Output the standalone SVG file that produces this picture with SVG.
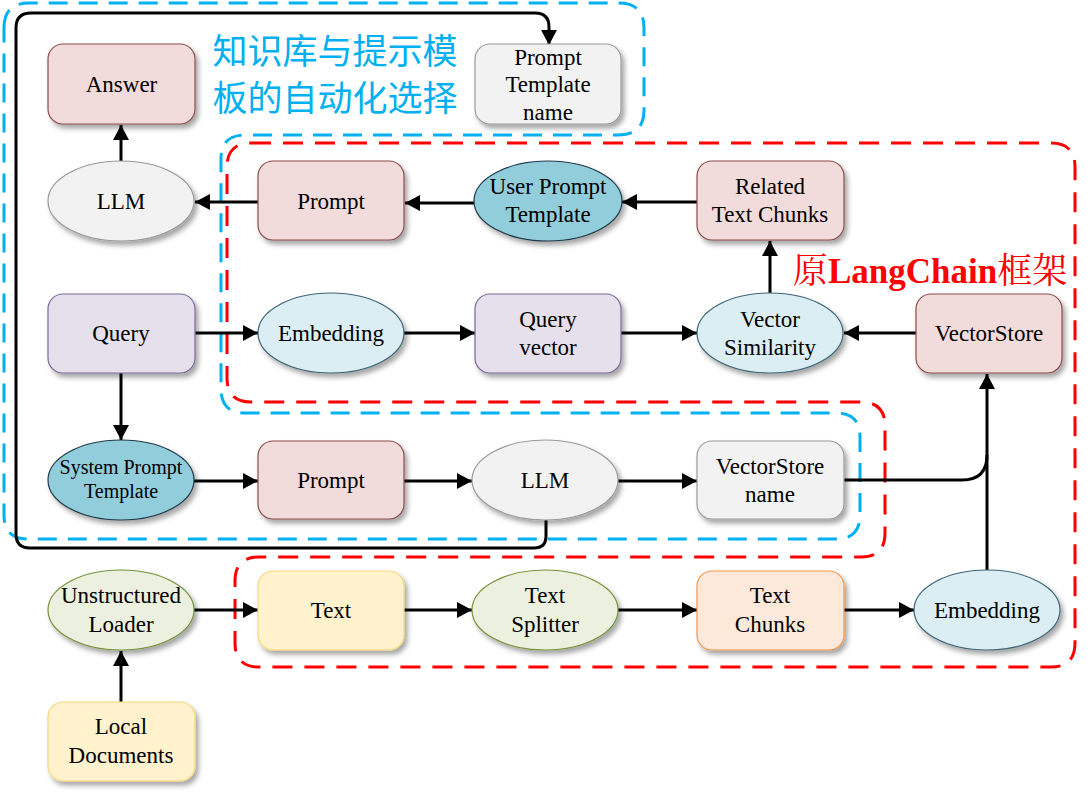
<svg xmlns="http://www.w3.org/2000/svg" width="1089" height="796" viewBox="0 0 1089 796">
<style>
.t{font-family:"Liberation Serif","Times New Roman",serif;font-size:23px;fill:#000;text-anchor:middle}
.s{font-size:20px}
.n{filter:url(#sh);stroke-width:1.2}
.pink{fill:#f2dcdb;stroke:#8c4c4a}
.gray{fill:#f2f2f2;stroke:#9a9a9a}
.lav{fill:#e6e0ec;stroke:#7a6a95}
.lb{fill:#dbeef3;stroke:#3f6677}
.teal{fill:#92cddc;stroke:#1f3b4b}
.yel{fill:#fff2cc;stroke:#f5d77a}
.grn{fill:#ebf1de;stroke:#77933c}
.org{fill:#fde9d9;stroke:#f79646}
.c{fill:none;stroke:#000;stroke-width:3}
.a{marker-end:url(#ah)}
.bd{fill:none;stroke:#00b0f0;stroke-width:3;stroke-dasharray:19 11}
.rd{fill:none;stroke:#ff0000;stroke-width:3;stroke-dasharray:20 12}
</style>
<defs>
<filter id="sh" x="-20%" y="-20%" width="150%" height="160%">
<feDropShadow dx="3" dy="4" stdDeviation="2.5" flood-color="#000" flood-opacity="0.35"/>
</filter>
<marker id="ah" markerUnits="userSpaceOnUse" markerWidth="16" markerHeight="16" refX="15" refY="8" orient="auto">
<path d="M0,0 L15,8 L0,16 Z" fill="#000"/>
</marker>
</defs>
<rect width="1089" height="796" fill="#fff"/>

<g id="borders">
<path class="bd" d="M4,28 Q4,3 29,3 L619,3 Q644,3 644,28 L644,110 Q644,135 619,135 L245,135 Q221,135 221,159 L221,389 Q221,413 245,413 L836,413 Q860,413 860,437 L860,515 Q860,539 836,539 L28,539 Q4,539 4,515 Z"/>
<path class="rd" d="M251,143 L1051,143 Q1075,143 1075,167 L1075,643 Q1075,667 1051,667 L259,667 Q235,667 235,643 L235,581 Q235,557 259,557 L861,557 Q885,557 885,533 L885,426 Q885,402 861,402 L251,402 Q227,402 227,378 L227,167 Q227,143 251,143 Z"/>
</g>

<g id="labels">
<text x="335" y="64" style="font-family:'Noto Sans CJK SC',sans-serif;font-size:35px;fill:#00b0f0;text-anchor:middle">知识库与提示模</text>
<text x="335" y="111" style="font-family:'Noto Sans CJK SC',sans-serif;font-size:35px;fill:#00b0f0;text-anchor:middle">板的自动化选择</text>
<text x="930" y="283" style="font-family:'Liberation Serif','Noto Serif CJK SC','Noto Sans CJK SC',serif;font-size:35px;fill:#ff0000;text-anchor:middle">原<tspan font-weight="bold">LangChain</tspan>框架</text>
</g>

<g id="connectors">
<path class="c a" d="M546,520 L546,536 Q546,548 534,548 L30,548 Q16,548 16,534 L16,28 Q16,13 31,13 L535,13 Q549,13 549,27 L549,45"/>
<path class="c a" d="M121,161 L121,125"/>
<path class="c a" d="M258,202 L195,202"/>
<path class="c a" d="M474,203 L405,203"/>
<path class="c a" d="M697,202 L622,202"/>
<path class="c a" d="M770,293 L770,241"/>
<path class="c a" d="M195,333 L258,333"/>
<path class="c a" d="M404,333 L475,333"/>
<path class="c a" d="M621,333 L697,333"/>
<path class="c a" d="M916,333 L844,333"/>
<path class="c a" d="M121,373 L121,440"/>
<path class="c a" d="M194,481 L258,481"/>
<path class="c a" d="M404,481 L472,481"/>
<path class="c a" d="M618,481 L697,481"/>
<path class="c" d="M844,480 L962,480 Q987,480 987,455"/>
<path class="c a" d="M987,570 L987,374"/>
<path class="c a" d="M194,610 L258,610"/>
<path class="c a" d="M404,610 L472,610"/>
<path class="c a" d="M618,610 L697,610"/>
<path class="c a" d="M844,610 L914,610"/>
<path class="c a" d="M121,702 L121,651"/>
</g>

<g id="answer"><rect class="n pink" x="48" y="44" width="147" height="80" rx="15"/><text class="t" x="121.5" y="92">Answer</text></g>
<g id="prompt-template-name"><rect class="n gray" x="475" y="44" width="146" height="80" rx="15"/><text class="t" x="548" y="65">Prompt</text><text class="t" x="548" y="92">Template</text><text class="t" x="548" y="120">name</text></g>
<g id="llm-top"><ellipse class="n gray" cx="121" cy="201" rx="73" ry="40"/><text class="t" x="121" y="209">LLM</text></g>
<g id="prompt-top"><rect class="n pink" x="258" y="161" width="146" height="79" rx="15"/><text class="t" x="331" y="209">Prompt</text></g>
<g id="user-prompt-template"><ellipse class="n teal" cx="548" cy="201" rx="74" ry="40"/><text class="t" x="548" y="194">User Prompt</text><text class="t" x="548" y="222">Template</text></g>
<g id="related-text-chunks"><rect class="n pink" x="697" y="161" width="147" height="79" rx="15"/><text class="t" x="770" y="194">Related</text><text class="t" x="770" y="222">Text Chunks</text></g>
<g id="query"><rect class="n lav" x="48" y="294" width="147" height="79" rx="15"/><text class="t" x="121" y="341">Query</text></g>
<g id="embedding-top"><ellipse class="n lb" cx="331" cy="333" rx="73" ry="40"/><text class="t" x="331" y="341">Embedding</text></g>
<g id="query-vector"><rect class="n lav" x="475" y="294" width="146" height="79" rx="15"/><text class="t" x="548" y="327">Query</text><text class="t" x="548" y="355">vector</text></g>
<g id="vector-similarity"><ellipse class="n lb" cx="770" cy="333" rx="73" ry="40"/><text class="t" x="770" y="327">Vector</text><text class="t" x="770" y="355">Similarity</text></g>
<g id="vectorstore"><rect class="n pink" x="916" y="294" width="146" height="79" rx="15"/><text class="t" x="989" y="341">VectorStore</text></g>
<g id="system-prompt-template"><ellipse class="n teal" cx="121" cy="480" rx="73" ry="40"/><text class="t s" x="121" y="474">System Prompt</text><text class="t s" x="121" y="498">Template</text></g>
<g id="prompt-bottom"><rect class="n pink" x="258" y="441" width="146" height="78" rx="15"/><text class="t" x="331" y="488">Prompt</text></g>
<g id="llm-bottom"><ellipse class="n gray" cx="545" cy="480" rx="73" ry="40"/><text class="t" x="545" y="488">LLM</text></g>
<g id="vectorstore-name"><rect class="n gray" x="697" y="441" width="147" height="78" rx="15"/><text class="t" x="770" y="474">VectorStore</text><text class="t" x="770" y="502">name</text></g>
<g id="unstructured-loader"><ellipse class="n grn" cx="121" cy="610" rx="73" ry="40"/><text class="t" x="121" y="603">Unstructured</text><text class="t" x="121" y="632">Loader</text></g>
<g id="text"><rect class="n yel" x="258" y="571" width="146" height="79" rx="15"/><text class="t" x="331" y="618">Text</text></g>
<g id="text-splitter"><ellipse class="n grn" cx="545" cy="610" rx="73" ry="40"/><text class="t" x="545" y="603">Text</text><text class="t" x="545" y="632">Splitter</text></g>
<g id="text-chunks"><rect class="n org" x="697" y="571" width="147" height="79" rx="15"/><text class="t" x="770" y="603">Text</text><text class="t" x="770" y="632">Chunks</text></g>
<g id="embedding-bottom"><ellipse class="n lb" cx="987" cy="610" rx="73" ry="40"/><text class="t" x="987" y="618">Embedding</text></g>
<g id="local-documents"><rect class="n yel" x="48" y="702" width="147" height="79" rx="15"/><text class="t" x="121" y="734">Local</text><text class="t" x="121" y="763">Documents</text></g>
</svg>
